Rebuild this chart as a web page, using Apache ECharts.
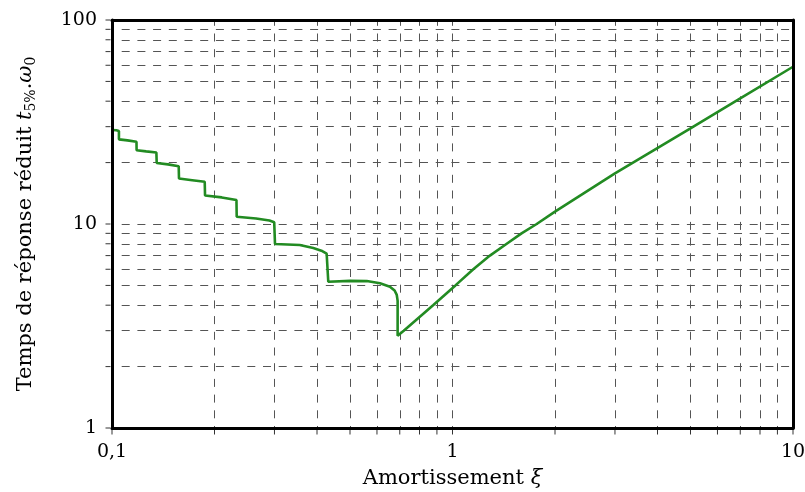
<!DOCTYPE html>
<html>
<head>
<meta charset="utf-8">
<script src="https://cdn.jsdelivr.net/npm/echarts@6/dist/echarts.min.js"></script>
<style>html,body{margin:0;padding:0;background:#fff}#c{width:805px;height:492px}</style>
</head>
<body>
<div id="c"></div>
<script>
// Damping ratio (xi) and reduced 5% settling time t5%.w0
const xiValues = [
  0.1, 0.103, 0.1048, 0.1048,
  0.111, 0.118, 0.1181,
  0.126, 0.135, 0.1353,
  0.146, 0.157, 0.1573,
  0.172, 0.1872, 0.1876,
  0.21, 0.232, 0.2324,
  0.265, 0.29, 0.2995, 0.3011, 0.3011,
  0.356, 0.39, 0.412, 0.427, 0.4317, 0.4317,
  0.5, 0.56, 0.6125, 0.655, 0.676, 0.686, 0.690, 0.690,
  0.719, 0.877, 1.02, 1.151, 1.288, 1.443, 1.595, 1.767, 2.0, 3.0, 5.0, 7.0, 10
];
const tValues = [
  28.9, 28.8, 28.6, 26.0,
  25.7, 25.3, 23.0,
  22.7, 22.4, 19.9,
  19.6, 19.2, 16.7,
  16.4, 16.1, 13.8,
  13.5, 13.1, 10.86,
  10.65, 10.4, 10.2, 10.1, 7.98,
  7.89, 7.62, 7.4, 7.15, 7.0, 5.21,
  5.26, 5.25, 5.12, 4.93, 4.72, 4.49, 4.2, 2.83,
  3.0, 4.0, 5.0, 6.0, 7.0, 8.0, 9.0, 10.0, 11.5, 17.7, 29.4, 41.3, 59
];

// grid lines and ticks
const xGridValues = [0.2, 0.3, 0.4, 0.5, 0.6, 0.7, 0.8, 0.9, 1, 2, 3, 4, 5, 6, 7, 8, 9];
const yGridValues = [2, 3, 4, 5, 6, 7, 8, 9, 10, 20, 30, 40, 50, 60, 70, 80, 90];
const xTickValues = [0.1, 0.2, 0.3, 0.4, 0.5, 0.6, 0.7, 0.8, 0.9, 1, 2, 3, 4, 5, 6, 7, 8, 9, 10];
const yTickValues = [1, 2, 3, 4, 5, 6, 7, 8, 9, 10, 20, 30, 40, 50, 60, 70, 80, 90, 100];
const xTickLabels = ['0,1', '1', '10'];
const yTickLabels = ['1', '10', '100'];

const FONT = 'DejaVu Serif';
const curve = xiValues.map((x, i) => [x, tValues[i]]);
const gridDash = { color: '#555', width: 1, type: [8, 7.7], dashOffset: 6 };

const chart = echarts.init(document.getElementById('c'), null, { renderer: 'canvas' });
const baseX = { type: 'log', logBase: 10, min: 0.1, max: 10 };
const baseY = { type: 'log', logBase: 10, min: 1, max: 100 };
chart.setOption({
  animation: false,
  backgroundColor: '#fff',
  grid: { left: 112, right: 12, top: 20, bottom: 64, containLabel: false, outerBoundsMode: 'none' },
  xAxis: [
    Object.assign({}, baseX, {
      position: 'bottom', z: 10,
      axisLine: { show: true, onZero: false, lineStyle: { color: '#000', width: 3 } },
      axisTick: { show: false }, splitLine: { show: false },
      axisLabel: { show: true, showMinLabel: true, showMaxLabel: true, margin: 15, color: '#000', fontFamily: FONT, fontSize: 19,
        formatter: v => xTickLabels[Math.round(Math.log10(v)) + 1] },
      name: '{r|Amortissement }{i|ξ}', nameLocation: 'middle', nameGap: 40,
      nameTextStyle: { rich: { r: { fontFamily: FONT, fontSize: 21, color: '#000' }, i: { fontFamily: FONT, fontSize: 21, fontStyle: 'italic', color: '#000' } } }
    }),
    Object.assign({}, baseX, {
      position: 'top', z: 10,
      axisLine: { show: true, onZero: false, lineStyle: { color: '#000', width: 3 } },
      axisTick: { show: false }, splitLine: { show: false }, axisLabel: { show: false }
    })
  ],
  yAxis: [
    Object.assign({}, baseY, {
      position: 'left', z: 10,
      axisLine: { show: true, onZero: false, lineStyle: { color: '#000', width: 3 } },
      axisTick: { show: false }, splitLine: { show: false },
      axisLabel: { show: true, showMinLabel: true, showMaxLabel: true, margin: 15, color: '#000', fontFamily: FONT, fontSize: 19,
        formatter: v => yTickLabels[Math.round(Math.log10(v))] },
      name: '{r|Temps de réponse réduit }{i|t}{s|5%}{r|.}{i|ω}{s|0}', nameLocation: 'middle', nameGap: 74, nameRotate: 90,
      nameTextStyle: { rich: {
        r: { fontFamily: FONT, fontSize: 21, color: '#000', lineHeight: 25 },
        i: { fontFamily: FONT, fontSize: 21, fontStyle: 'italic', color: '#000', lineHeight: 25 },
        s: { fontFamily: FONT, fontSize: 14, color: '#000', lineHeight: 16, verticalAlign: 'bottom' }
      } }
    }),
    Object.assign({}, baseY, {
      position: 'right', z: 10,
      axisLine: { show: true, onZero: false, lineStyle: { color: '#000', width: 3 } },
      axisTick: { show: false }, splitLine: { show: false }, axisLabel: { show: false }
    })
  ],
  series: [
    {
      type: 'scatter', name: 'gridhost', data: [], silent: true, z: 1,
      markLine: {
        silent: true, symbol: 'none', z: 1, animation: false,
        label: { show: false }, lineStyle: gridDash, emphasis: { disabled: true },
        data: yGridValues.map(v => ({ yAxis: v })).concat(xGridValues.map(v => ({ xAxis: v })))
      }
    },
    {
      type: 'scatter', name: 'xticks', silent: true, clip: false, z: 1,
      symbol: 'rect', symbolSize: [1, 5], symbolOffset: [0, 4],
      itemStyle: { color: '#000' },
      data: xTickValues.map(v => [v, 1])
    },
    {
      type: 'scatter', name: 'yticks', silent: true, clip: false, z: 1,
      symbol: 'rect', symbolSize: [5, 1], symbolOffset: [-4, 0],
      itemStyle: { color: '#000' },
      data: yTickValues.map(v => [0.1, v])
    },
    {
      type: 'line', name: 't5', data: curve, showSymbol: false, symbol: 'none', z: 5,
      lineStyle: { color: '#228B22', width: 2.6 }, clip: true, silent: true
    }
  ]
});
</script>
</body>
</html>
